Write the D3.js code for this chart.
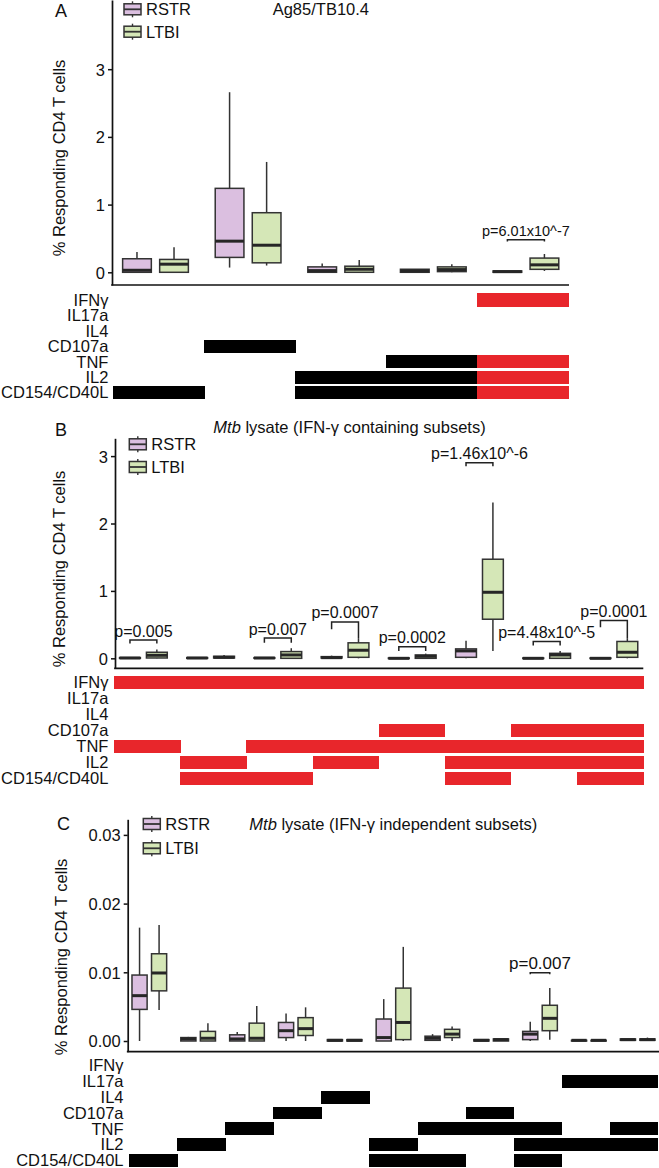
<!DOCTYPE html>
<html>
<head>
<meta charset="utf-8">
<script src="https://cdn.jsdelivr.net/npm/d3@7"></script>
<style>
    body { margin: 0; background: #fff; }
    text { font-family: 'Liberation Sans', Arial, sans-serif; fill: #111; }
</style>
</head>
<body>
<svg id="chart" width="659" height="1168"></svg>
<script>
// rows of the cytokine grid, top to bottom
const cytokines = ['IFNγ', 'IL17a', 'IL4', 'CD107a', 'TNF', 'IL2', 'CD154/CD40L'];
const groups = ['RSTR', 'LTBI'];

// box stats are [min, q1, median, q3, max]

// A: Ag85/TB10.4
const subsetsA = [
    ['CD154/CD40L'],
    ['CD107a'],
    ['IL2', 'CD154/CD40L'],
    ['TNF', 'IL2', 'CD154/CD40L'],
    ['IFNγ', 'TNF', 'IL2', 'CD154/CD40L'],
];
const rstrA = [[0, 0, 0.03, 0.2, 0.3], [0.07, 0.22, 0.46, 1.24, 2.66], [0, 0, 0.025, 0.08, 0.13], [0, 0, 0.02, 0.045, 0.05], [0, 0, 0.01, 0.02, 0.02]];
const ltbiA = [[0, 0, 0.12, 0.19, 0.37], [0.1, 0.14, 0.4, 0.88, 1.63], [0, 0, 0.045, 0.09, 0.18], [0, 0.01, 0.04, 0.08, 0.12], [0.02, 0.044, 0.11, 0.21, 0.27]];
const ticksA = [0, 1, 2, 3];
const pvalsA = [{ col: 4, label: 'p=6.01x10^-7', y: 0.48, tipL: 0.455, tipR: 0.455 }];

// B: Mtb lysate, IFN-g containing subsets
const subsetsB = [
    ['IFNγ', 'TNF'],
    ['IFNγ', 'IL2', 'CD154/CD40L'],
    ['IFNγ', 'TNF', 'CD154/CD40L'],
    ['IFNγ', 'TNF', 'IL2'],
    ['IFNγ', 'CD107a', 'TNF'],
    ['IFNγ', 'TNF', 'IL2', 'CD154/CD40L'],
    ['IFNγ', 'CD107a', 'TNF', 'IL2'],
    ['IFNγ', 'CD107a', 'TNF', 'IL2', 'CD154/CD40L'],
];
const rstrB = [[0, 0, 0.005, 0.01, 0.02], [0, 0, 0.005, 0.01, 0.015], [0, 0, 0.005, 0.01, 0.02], [0, 0.005, 0.01, 0.025, 0.04], [0, 0, 0, 0.005, 0.01], [0, 0.015, 0.11, 0.14, 0.26], [0, 0, 0, 0.005, 0.01], [0, 0, 0, 0.005, 0.01]];
const ltbiB = [[0, 0.005, 0.045, 0.09, 0.13], [0, 0.005, 0.015, 0.03, 0.05], [0, 0, 0.05, 0.1, 0.15], [0, 0.015, 0.12, 0.23, 0.3], [0, 0, 0.03, 0.05, 0.07], [0.11, 0.58, 0.98, 1.47, 2.31], [0, 0, 0.05, 0.074, 0.11], [0, 0.015, 0.09, 0.25, 0.3]];
const ticksB = [0, 1, 2, 3];
const pvalsB = [
    { col: 0, label: 'p=0.005', y: 0.27, tipL: 0.22, tipR: 0.22 },
    { col: 2, label: 'p=0.007', y: 0.3, tipL: 0.23, tipR: 0.23 },
    { col: 3, label: 'p=0.0007', y: 0.54, tipL: 0.43, tipR: 0.3 },
    { col: 4, label: 'p=0.0002', y: 0.17, tipL: 0.11, tipR: 0.11 },
    { col: 5, label: 'p=1.46x10^-6', y: 2.9, tipL: 2.85, tipR: 2.85 },
    { col: 6, label: 'p=4.48x10^-5', y: 0.25, tipL: 0.19, tipR: 0.19 },
    { col: 7, label: 'p=0.0001', y: 0.56, tipL: 0.46, tipR: 0.3 },
];

// C: Mtb lysate, IFN-g independent subsets
const subsetsC = [
    ['CD154/CD40L'],
    ['IL2'],
    ['TNF'],
    ['CD107a'],
    ['IL4'],
    ['IL2', 'CD154/CD40L'],
    ['TNF', 'CD154/CD40L'],
    ['CD107a', 'TNF'],
    ['TNF', 'IL2', 'CD154/CD40L'],
    ['IL17a', 'IL2'],
    ['IL17a', 'TNF', 'IL2'],
];
const rstrC = [[0, 0.0046, 0.0066, 0.0096, 0.0165], [0, 0, 0.0003, 0.0005, 0.0006], [0, 0, 0.0003, 0.0009, 0.0013], [0, 0.0005, 0.0015, 0.0027, 0.004], [0, 0, 0.0001, 0.0002, 0.0002], [0, 0, 0.0005, 0.0032, 0.0061], [0.0001, 0.0001, 0.0004, 0.0007, 0.001], [0, 0, 0.0001, 0.0002, 0.0002], [0, 0.0002, 0.001, 0.0014, 0.0028], [0, 0, 0.0001, 0.0001, 0.0001], [0, 0.0001, 0.0002, 0.0003, 0.0003]];
const ltbiC = [[0.0045, 0.0073, 0.0099, 0.0127, 0.0169], [0, 0, 0.0004, 0.0014, 0.0026], [0, 0, 0.0004, 0.0026, 0.0051], [0, 0.0008, 0.0018, 0.0034, 0.0049], [0, 0, 0.0001, 0.0002, 0.0002], [0, 0.0002, 0.0027, 0.0077, 0.0137], [0, 0.0005, 0.001, 0.0017, 0.0021], [0, 0, 0.0002, 0.0003, 0.0003], [0.0002, 0.0015, 0.0033, 0.0052, 0.0077], [0, 0, 0.0001, 0.0001, 0.0001], [0, 0.0001, 0.0002, 0.0003, 0.0005]];
const ticksC = [0, 0.01, 0.02, 0.03];
const pvalsC = [{ col: 8, label: 'p=0.007', y: 0.00994, tipL: 0.0097, tipR: 0.0097 }];

const groupFill = { RSTR: '#dbbfe0', LTBI: '#d5e7b7' };
const ifnColor = '#e8262b';
const otherColor = '#000';
const lineColor = '#333';
const fontSize = 16.5;

const svg = d3.select('#chart');

function drawLegendIcon(g, x, cy, fill) {
    g.append('line').attr('x1', x + 8.5).attr('x2', x + 8.5).attr('y1', cy - 8).attr('y2', cy + 8)
        .attr('stroke', lineColor).attr('stroke-width', 1.4);
    g.append('rect').attr('x', x).attr('y', cy - 5.5).attr('width', 17).attr('height', 11)
        .attr('fill', fill).attr('stroke', lineColor).attr('stroke-width', 1.5);
    g.append('line').attr('x1', x).attr('x2', x + 17).attr('y1', cy).attr('y2', cy)
        .attr('stroke', lineColor).attr('stroke-width', 1.8);
}

function drawPanel(cfg, subsets, rstr, ltbi, ticks, pvals) {
    let g = svg.append('g');
    let y = d3.scaleLinear().domain(cfg.domain).range(cfg.yRange);
    let cols = d3.range(subsets.length);
    let xGrid = d3.scaleBand().domain(cols).range(cfg.gridX);
    // boxes sit on a slightly wider band than the grid underneath
    let xBox = d3.scaleBand().domain(cols).range([cfg.gridX[0] - cfg.pad, cfg.gridX[1] + cfg.pad]);
    let step = xBox.step();
    let xGroup = d3.scalePoint().domain(groups).range([-0.2 * step, 0.2 * step]);
    let boxW = 0.31 * step;
    let cx = (col, grp) => xBox(col) + step / 2 + xGroup(grp);

    // y axis
    let axis = d3.axisLeft(y).tickValues(ticks).tickSize(4).tickSizeOuter(0).tickPadding(3)
        .tickFormat(d3.format(cfg.fmt));
    let ax = g.append('g').attr('transform', `translate(${cfg.axisX},0)`).call(axis)
        .attr('font-size', fontSize);
    ax.select('.domain').attr('stroke', '#111').attr('stroke-width', 1.7);
    ax.selectAll('.tick line').attr('stroke', '#111').attr('stroke-width', 1.5);
    ax.selectAll('.tick text').attr('dy', '0.36em');

    // x axis line
    g.append('line')
        .attr('x1', cfg.axisX - 0.85).attr('x2', cfg.lineEnd)
        .attr('y1', cfg.yRange[0]).attr('y2', cfg.yRange[0])
        .attr('stroke', '#111').attr('stroke-width', 1.7);

    // y label
    g.append('text')
        .attr('transform', `translate(${cfg.ylab[0]},${cfg.ylab[1]}) rotate(-90)`)
        .attr('text-anchor', 'middle')
        .attr('font-size', fontSize)
        .text('% Responding CD4 T cells');

    // panel letter and title
    g.append('text').attr('x', cfg.letter[0]).attr('y', cfg.letter[1]).attr('font-size', 18).text(cfg.name);
    let title = g.append('text').attr('x', cfg.title[0]).attr('y', cfg.title[1]).attr('font-size', fontSize);
    if (cfg.italic) title.append('tspan').attr('font-style', 'italic').text(cfg.italic);
    title.append('tspan').text(cfg.titleText);

    // legend
    groups.forEach((grp, i) => {
        let ly = cfg.legend[1] + i * cfg.legend[2];
        drawLegendIcon(g, cfg.legend[0], ly, groupFill[grp]);
        g.append('text').attr('x', cfg.legend[0] + 22).attr('y', ly + 6).attr('font-size', fontSize).text(grp);
    });

    // cytokine grid
    let yRow = d3.scaleBand().domain(cytokines).range([cfg.gridTop, cfg.gridTop + cytokines.length * cfg.rowStep]);
    g.selectAll('text.cyto').data(cytokines).enter().append('text')
        .attr('class', 'cyto')
        .attr('x', cfg.labelRight)
        .attr('y', (d) => yRow(d) + cfg.barH / 2 + 5.8)
        .attr('text-anchor', 'end')
        .attr('font-size', fontSize)
        .text((d) => d);

    let cells = [];
    subsets.forEach((s, i) => {
        let color = s.includes('IFNγ') ? ifnColor : otherColor;
        s.forEach((c) => cells.push({ col: i, cyto: c, color: color }));
    });
    g.selectAll('rect.cell').data(cells).enter().append('rect')
        .attr('class', 'cell')
        .attr('x', (d) => xGrid(d.col))
        .attr('y', (d) => yRow(d.cyto))
        .attr('width', xGrid.bandwidth() + 0.5)
        .attr('height', cfg.barH)
        .attr('fill', (d) => d.color)
        .attr('shape-rendering', 'crispEdges');

    // boxes
    let boxes = [];
    cols.forEach((i) => {
        boxes.push({ col: i, grp: 'RSTR', s: rstr[i] });
        boxes.push({ col: i, grp: 'LTBI', s: ltbi[i] });
    });
    let bx = g.selectAll('g.box').data(boxes).enter().append('g').attr('class', 'box');
    bx.append('line')
        .attr('x1', (d) => cx(d.col, d.grp)).attr('x2', (d) => cx(d.col, d.grp))
        .attr('y1', (d) => y(d.s[4])).attr('y2', (d) => y(d.s[0]))
        .attr('stroke', lineColor).attr('stroke-width', 1.5);
    bx.append('rect')
        .attr('x', (d) => cx(d.col, d.grp) - boxW / 2)
        .attr('y', (d) => y(d.s[3]))
        .attr('width', boxW)
        .attr('height', (d) => Math.max(0.5, y(d.s[1]) - y(d.s[3])))
        .attr('fill', (d) => groupFill[d.grp])
        .attr('stroke', lineColor).attr('stroke-width', 1.5);
    bx.append('line')
        .attr('x1', (d) => cx(d.col, d.grp) - boxW / 2).attr('x2', (d) => cx(d.col, d.grp) + boxW / 2)
        .attr('y1', (d) => y(d.s[2])).attr('y2', (d) => y(d.s[2]))
        .attr('stroke', '#262626').attr('stroke-width', 3);

    // p-value brackets
    pvals.forEach((p) => {
        let xl = cx(p.col, 'RSTR');
        let xr = cx(p.col, 'LTBI');
        g.append('path')
            .attr('d', `M${xl},${y(p.tipL)}V${y(p.y)}H${xr}V${y(p.tipR)}`)
            .attr('fill', 'none').attr('stroke', '#222').attr('stroke-width', 1.5);
        g.append('text')
            .attr('x', (xl + xr) / 2).attr('y', y(p.y) - 3.5)
            .attr('text-anchor', 'middle').attr('font-size', cfg.pFont)
            .text(p.label);
    });
}

drawPanel({
    name: 'A', letter: [55, 16.5], title: [272.7, 15], titleText: 'Ag85/TB10.4',
    axisX: 112, yRange: [285, 0], domain: [-0.1876, 4.022], fmt: 'd',
    gridX: [113.4, 568], pad: 4.2, lineEnd: 569,
    gridTop: 293.3, rowStep: 15.45, barH: 13.3, labelRight: 108.4,
    legend: [124, 9.3, 22.4], ylab: [65, 158], pFont: 14.5,
}, subsetsA, rstrA, ltbiA, ticksA, pvalsA);

drawPanel({
    name: 'B', letter: [55, 436], title: [213.3, 433.3], italic: 'Mtb', titleText: ' lysate (IFN-γ containing subsets)',
    axisX: 115, yRange: [668.3, 438.3], domain: [-0.148, 3.264], fmt: 'd',
    gridX: [114.3, 643], pad: 4.5, lineEnd: 643.3,
    gridTop: 675.7, rowStep: 16, barH: 13, labelRight: 108.4,
    legend: [129.3, 444.3, 22.7], ylab: [65, 569], pFont: 16,
}, subsetsB, rstrB, ltbiB, ticksB, pvalsB);

drawPanel({
    name: 'C', letter: [57, 830], title: [249.3, 830], italic: 'Mtb', titleText: ' lysate (IFN-γ independent subsets)',
    axisX: 127.7, yRange: [1051.7, 819.3], domain: [-0.001557, 0.03227], fmt: '.2f',
    gridX: [129.4, 657.6], pad: 4.5, lineEnd: 659,
    gridTop: 1059.2, rowStep: 15.8, barH: 12.7, labelRight: 123.5,
    legend: [143.3, 824, 24.3], ylab: [67, 957], pFont: 17,
}, subsetsC, rstrC, ltbiC, ticksC, pvalsC);
</script>
</body>
</html>
